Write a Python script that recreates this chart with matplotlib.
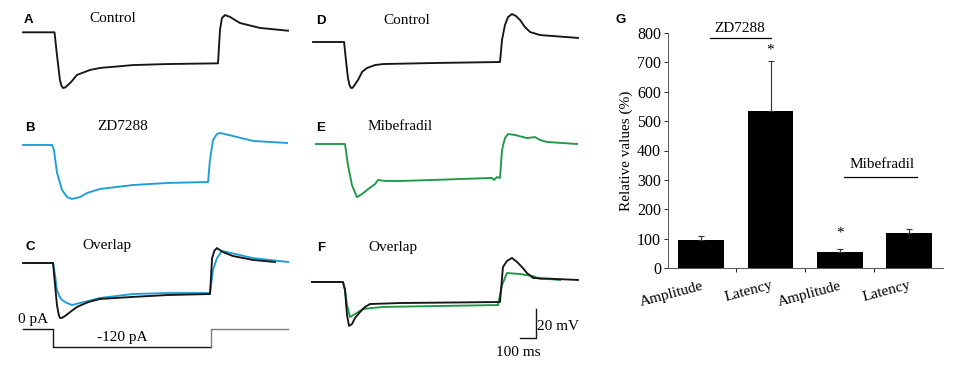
import numpy as np
import matplotlib
matplotlib.use("Agg")
import matplotlib.pyplot as plt

W, H = 966, 367
SERIF = "Liberation Serif"
SANS = "Liberation Sans"
BLACK = "#161616"
BLUE = "#1c9fd6"
GREEN = "#1d9845"

# ---- voltage traces: time (ms from step onset), voltage (mV from rest) ----
a_t = [-195, -3, 12, 30, 40, 49, 61, 73, 98, 134, 213, 274, 476, 683, 994, 1006, 1018, 1037, 1067, 1128, 1250, 1421]
a_v = [0, 0, -15.7, -32.9, -37.0, -38.4, -38.1, -37.0, -34.3, -29.4, -26.0, -24.6, -22.6, -21.9, -21.4, 1.6, 9.9, 11.9, 10.6, 6.4, 3.0, 1.1]

b_t = [-192, -6, 6, 26, 58, 90, 122, 173, 218, 301, 513, 731, 994, 1006, 1026, 1051, 1071, 1154, 1282, 1500]
b_v = [0, 0, -3.4, -19.3, -31.0, -35.9, -37.2, -35.9, -33.1, -30.3, -27.6, -26.2, -25.5, -10.3, 3.4, 7.6, 8.3, 6.2, 2.8, 1.4]

c_ctl_t = [-194, -3, 10, 22, 33, 41, 55, 73, 110, 150, 220, 296, 506, 723, 997, 1010, 1025, 1041, 1080, 1143, 1271, 1411]
c_ctl_v = [0, 0, -15.2, -29.0, -35.5, -37.9, -37.8, -36.6, -33.5, -30.3, -27.0, -24.8, -23.4, -22.1, -21.4, 3.4, 8.5, 10.3, 7.5, 4.8, 2.1, 0.7]
c_zd_t = [-194, -3, 10, 22, 38, 54, 86, 118, 169, 296, 506, 723, 997, 1016, 1041, 1073, 1271, 1494]
c_zd_v = [0, 0, -8.3, -18.6, -23.0, -25.5, -27.6, -29.0, -27.6, -24.1, -21.4, -20.7, -20.7, -4.8, 3.4, 8.3, 3.4, 0.7]

# current command under C (pA)
cur_t = [-194, 0, 0, 1000, 1000, 1494]
cur_i = [0, 0, -120, -120, 0, 0]

d_t = [-206, -6, 6, 19, 29, 39, 48, 58, 84, 110, 142, 194, 245, 568, 1000, 1013, 1032, 1052, 1077, 1103, 1129, 1161, 1194, 1258, 1503]
d_v = [0, 0, -12.4, -24.8, -29.7, -31.7, -31.7, -30.3, -26.2, -20.7, -17.9, -15.9, -15.2, -14.5, -13.8, 1.4, 11.7, 17.2, 19.3, 17.9, 15.2, 10.3, 6.9, 4.8, 2.8]

e_t = [-187, 0, 19, 45, 77, 110, 142, 194, 213, 258, 355, 568, 948, 961, 981, 1000, 1013, 1032, 1052, 1097, 1174, 1226, 1258, 1303, 1497]
e_v = [0, 0, -14.5, -28.3, -36.6, -34.5, -31.7, -27.6, -24.8, -25.5, -25.5, -24.8, -23.4, -24.8, -22.8, -23.4, -4.1, 4.1, 6.9, 6.2, 4.1, 4.8, 2.8, 1.4, 0]

f_ctl_t = [-213, -13, 0, 13, 26, 45, 65, 97, 129, 161, 355, 1000, 1019, 1045, 1077, 1110, 1142, 1174, 1213, 1503]
f_ctl_v = [0, 0, -5.5, -22.8, -30.3, -29.0, -24.8, -20.7, -17.2, -15.2, -14.5, -13.8, 10.3, 14.5, 16.6, 13.8, 10.3, 6.2, 2.8, 1.4]
f_mib_t = [-213, -13, 0, 13, 32, 65, 116, 245, 568, 987, 1013, 1045, 1129, 1213, 1258, 1310, 1387]
f_mib_v = [0, 0, -5.5, -15.9, -24.1, -22.1, -18.6, -17.2, -16.6, -15.9, -2.1, 6.2, 5.5, 4.1, 2.1, 2.1, 1.4]

SCALE_MS = 100
SCALE_MV = 20

# ---- bar chart G ----
g_labels = ["Amplitude", "Latency", "Amplitude", "Latency"]
g_values = [95, 534, 55, 118]
g_errors = [14, 172, 9, 14]


def fx(x):
    return x / W


def fy(y):
    return 1 - y / H


def trace_axes(fig, rect_px, x_start, sx, y_base, sy):
    # axes whose data units map onto the panel at sx px/ms and sy px/mV
    L, T, R, B = rect_px
    ax = fig.add_axes([L / W, 1 - B / H, (R - L) / W, (B - T) / H])
    ax.set_xlim((L - x_start) / sx, (R - x_start) / sx)
    ax.set_ylim((y_base - B) / sy, (y_base - T) / sy)
    ax.axis("off")
    return ax


def label(fig, x, y, letter, title, tx):
    fig.text(fx(x), fy(y), letter, family=SANS, weight="bold", fontsize=9.5, ha="center", va="center")
    fig.text(fx(tx), fy(y - 1), title, family=SERIF, fontsize=11, ha="center", va="center")


def main():
    fig = plt.figure(figsize=(W / 100, H / 100), dpi=100)
    lw = 1.35
    sy = 1.45

    ax = trace_axes(fig, (0, 0, 300, 110), 55, 0.164, 32.3, sy)
    ax.plot(a_t, a_v, color=BLACK, lw=lw)
    label(fig, 28, 20, "A", "Control", 113)

    ax = trace_axes(fig, (0, 110, 300, 230), 53, 0.156, 145, sy)
    ax.plot(b_t, b_v, color=BLUE, lw=lw)
    label(fig, 30, 128, "B", "ZD7288", 123)

    ax = trace_axes(fig, (0, 230, 300, 367), 53.5, 0.157, 263, sy)
    ax.plot(c_zd_t, c_zd_v, color=BLUE, lw=lw)
    ax.plot(c_ctl_t, c_ctl_v, color=BLACK, lw=lw)
    label(fig, 30, 247, "C", "Overlap", 107)

    axi = trace_axes(fig, (0, 230, 300, 367), 53.5, 0.157, 329, 0.15)
    axi.plot(cur_t[:4], cur_i[:4], color=BLACK, lw=1.0)
    axi.plot(cur_t[3:], cur_i[3:], color="#7a7a7a", lw=1.0)
    fig.text(fx(33), fy(319), "0 pA", family=SERIF, fontsize=11, ha="center", va="center")
    fig.text(fx(122), fy(337), "-120 pA", family=SERIF, fontsize=11, ha="center", va="center")

    ax = trace_axes(fig, (300, 0, 600, 110), 345, 0.155, 42, sy)
    ax.plot(d_t, d_v, color=BLACK, lw=lw)
    label(fig, 321, 21, "D", "Control", 407)

    ax = trace_axes(fig, (300, 110, 600, 230), 345, 0.155, 144, sy)
    ax.plot(e_t, e_v, color=GREEN, lw=lw)
    label(fig, 321, 128, "E", "Mibefradil", 400)

    ax = trace_axes(fig, (300, 230, 600, 367), 345, 0.155, 282, sy)
    ax.plot(f_mib_t, f_mib_v, color=GREEN, lw=lw)
    ax.plot(f_ctl_t, f_ctl_v, color=BLACK, lw=lw)
    label(fig, 321, 248, "F", "Overlap", 393)
    # scale bar
    t0, v0 = 1232, -38.6
    ax.plot([t0 - SCALE_MS, t0, t0], [v0, v0, v0 + SCALE_MV], color=BLACK, lw=1.0)
    fig.text(fx(558), fy(327), f"{SCALE_MV} mV", family=SERIF, fontsize=11, ha="center", va="center")
    fig.text(fx(518), fy(353), f"{SCALE_MS} ms", family=SERIF, fontsize=11, ha="center", va="center")

    # ---- panel G ----
    L, T, R, B = 668, 33, 943, 268
    axg = fig.add_axes([L / W, 1 - B / H, (R - L) / W, (B - T) / H])
    x = np.arange(len(g_values))
    axg.bar(x, g_values, width=0.66, color="black")
    axg.errorbar(x, g_values, yerr=[np.zeros(len(g_errors)), g_errors], fmt="none",
                 ecolor="#333333", elinewidth=0.8, capsize=2.5, capthick=0.8)
    axg.set_xlim(-0.48, 3.49)
    axg.set_ylim(0, 800)
    axg.set_yticks(range(0, 801, 100))
    axg.set_xticks(x)
    axg.set_xticklabels(g_labels, rotation=15, ha="right", rotation_mode="anchor",
                        family=SERIF, fontsize=11)
    axg.set_xticks([0.5, 1.5, 2.5], minor=True)
    axg.tick_params(axis="x", which="major", length=0, pad=8)
    axg.tick_params(axis="x", which="minor", length=3, direction="out", width=0.6)
    axg.tick_params(axis="y", length=3, width=0.6, labelsize=11.5, pad=2)
    for t in axg.get_yticklabels():
        t.set_family(SERIF)
    for s in ("top", "right"):
        axg.spines[s].set_visible(False)
    for s in ("left", "bottom"):
        axg.spines[s].set_color("#555555")
        axg.spines[s].set_linewidth(0.7)
    axg.set_ylabel("Relative values (%)", family=SERIF, fontsize=11, labelpad=3)

    axg.plot([0.12, 1.0], [783, 783], color="black", lw=0.9, clip_on=False)
    axg.text(0.56, 817, "ZD7288", family=SERIF, fontsize=11, ha="center", va="center")
    axg.plot([2.06, 3.12], [310, 310], color="black", lw=0.9, clip_on=False)
    axg.text(2.61, 351, "Mibefradil", family=SERIF, fontsize=11, ha="center", va="center")
    axg.text(1.0, 743, "*", family=SERIF, fontsize=11, ha="center", va="center")
    axg.text(2.0, 120, "*", family=SERIF, fontsize=11, ha="center", va="center")
    fig.text(fx(621), fy(20), "G", family=SANS, weight="bold", fontsize=9.5, ha="center", va="center")

    fig.savefig("out.png", dpi=100)


if __name__ == "__main__":
    main()
